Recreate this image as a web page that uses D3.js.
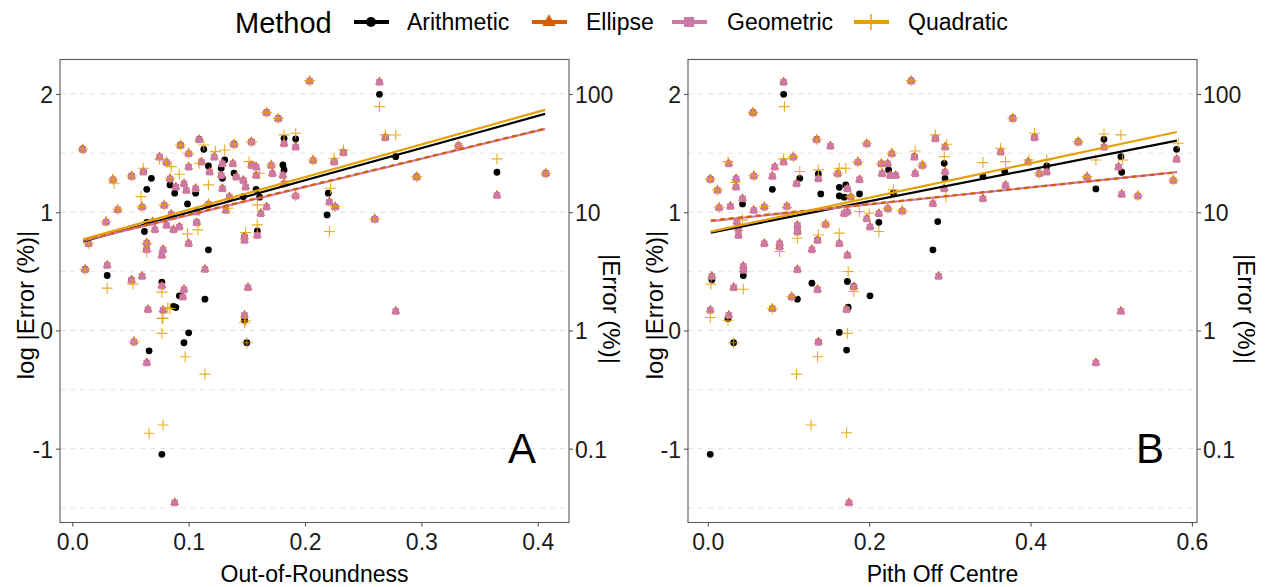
<!DOCTYPE html>
<html><head><meta charset="utf-8">
<script src="https://cdn.jsdelivr.net/npm/d3@7"></script>
<style>
body{margin:0;background:#fff}
text{font-family:"Liberation Sans",Arial,Helvetica,sans-serif}
</style>
</head><body>
<svg id="chart" width="1271" height="587"></svg>
<script>
// ---------- data ----------
const methods = ["Arithmetic","Ellipse","Geometric","Quadratic"];
const methodColors = ["#000000","#D55E00","#CC79A7","#E69F00"];
const yTicks = [-1,0,1,2];
const yMinor = [-1.5,-0.5,0.5,1.5];
const yTickLabels = ["-1","0","1","2"];
const yRightLabels = ["0.1","1","10","100"];
const xTicksA = [0,0.1,0.2,0.3,0.4];
const xTickLabelsA = ["0.0","0.1","0.2","0.3","0.4"];
const xTicksB = [0,0.2,0.4,0.6];
const xTickLabelsB = ["0.0","0.2","0.4","0.6"];

// Panel A (Out-of-Roundness): [x, geometric, ellipse]
const geoEllA = [[0.009,1.535,1.535],[0.011,0.518,0.518],[0.014,0.738,0.738],[0.030,0.555,0.555],[0.029,0.921,0.921],[0.035,1.279,1.279],[0.039,1.025,1.025],[0.051,1.307,1.307],[0.051,0.428,0.428],[0.060,0.462,0.462],[0.061,1.344,1.344],[0.060,1.048,1.048],[0.069,0.921,0.921],[0.071,0.856,0.856],[0.064,0.744,0.744],[0.064,0.687,0.687],[0.075,1.470,1.470],[0.081,1.425,1.425],[0.078,0.687,0.687],[0.077,0.639,0.639],[0.077,0.380,0.380],[0.065,0.180,0.180],[0.078,0.175,0.175],[0.095,0.287,0.287],[0.096,0.349,0.349],[0.079,1.062,1.062],[0.084,1.287,1.287],[0.093,1.569,1.569],[0.100,1.499,1.499],[0.100,1.386,1.386],[0.096,1.245,1.245],[0.098,1.189,1.189],[0.089,1.217,1.217],[0.085,0.986,0.986],[0.081,0.893,0.893],[0.087,0.856,0.856],[0.092,0.879,0.879],[0.100,0.738,0.738],[0.107,0.915,0.915],[0.107,1.006,1.006],[0.106,1.203,1.203],[0.109,1.617,1.617],[0.111,1.428,1.428],[0.118,1.344,1.344],[0.114,0.521,0.521],[0.117,1.070,1.070],[0.122,1.470,1.470],[0.129,1.414,1.414],[0.128,1.315,1.315],[0.129,1.203,1.203],[0.135,1.132,1.132],[0.132,1.020,1.020],[0.138,1.414,1.414],[0.139,1.577,1.577],[0.141,1.301,1.301],[0.147,1.273,1.273],[0.149,1.217,1.217],[0.148,0.794,0.794],[0.148,0.766,0.766],[0.151,0.366,0.366],[0.148,0.132,0.132],[0.154,1.597,1.597],[0.154,1.400,1.400],[0.158,1.386,1.386],[0.158,1.315,1.315],[0.159,0.808,0.808],[0.162,0.992,0.992],[0.167,1.048,1.048],[0.167,1.845,1.845],[0.171,1.400,1.400],[0.172,1.330,1.330],[0.177,1.794,1.794],[0.181,1.315,1.315],[0.182,1.583,1.583],[0.182,1.245,1.245],[0.192,1.555,1.555],[0.192,1.141,1.141],[0.204,2.113,2.113],[0.207,1.442,1.442],[0.221,1.090,1.090],[0.225,1.428,1.428],[0.226,1.048,1.048],[0.233,1.507,1.507],[0.264,2.104,2.104],[0.269,1.634,1.634],[0.278,0.166,0.166],[0.260,0.944,0.944],[0.296,1.301,1.301],[0.332,1.563,1.563],[0.365,1.146,1.146],[0.407,1.330,1.330],[0.053,-0.093,-0.093],[0.064,-0.270,-0.270],[0.088,-1.454,-1.454]];
const arithA = [[0.009,1.535],[0.011,0.518],[0.051,1.307],[0.093,1.569],[0.109,1.617],[0.139,1.577],[0.154,1.597],[0.167,1.845],[0.177,1.794],[0.225,1.428],[0.260,0.944],[0.296,1.301],[0.332,1.563],[0.407,1.330],[0.030,0.465],[0.051,0.428],[0.064,0.915],[0.062,0.837],[0.064,1.194],[0.068,1.287],[0.061,1.344],[0.064,0.687],[0.077,0.408],[0.087,0.203],[0.092,0.293],[0.084,1.231],[0.088,1.161],[0.099,1.070],[0.107,0.915],[0.106,1.161],[0.113,1.532],[0.117,1.392],[0.117,0.682],[0.114,0.265],[0.131,1.442],[0.128,1.372],[0.129,1.287],[0.139,1.330],[0.148,0.794],[0.147,1.132],[0.154,1.400],[0.158,1.194],[0.161,1.127],[0.159,0.842],[0.181,1.400],[0.182,1.358],[0.182,1.625],[0.192,1.620],[0.219,0.977],[0.220,1.161],[0.264,1.997],[0.269,1.634],[0.278,1.470],[0.233,1.507],[0.365,1.338],[0.089,0.194],[0.096,-0.104],[0.100,-0.020],[0.066,-0.172],[0.077,-1.048],[0.148,0.087],[0.150,-0.104]];
const quadA = [[0.009,1.535],[0.011,0.518],[0.014,0.738],[0.029,0.921],[0.030,0.358],[0.035,1.279],[0.036,1.245],[0.039,1.025],[0.051,1.307],[0.052,0.392],[0.061,1.372],[0.060,1.048],[0.059,1.132],[0.064,0.738],[0.064,0.668],[0.075,1.448],[0.081,1.425],[0.077,0.324],[0.078,0.104],[0.082,0.189],[0.079,1.062],[0.085,1.386],[0.084,1.287],[0.093,1.569],[0.100,1.499],[0.092,1.321],[0.099,0.817],[0.108,0.851],[0.113,1.569],[0.109,1.414],[0.117,1.231],[0.117,1.070],[0.123,1.513],[0.131,1.527],[0.134,1.034],[0.139,1.577],[0.149,0.828],[0.149,0.082],[0.154,1.597],[0.152,1.428],[0.161,1.330],[0.159,0.893],[0.159,1.062],[0.167,1.845],[0.171,1.400],[0.177,1.794],[0.182,1.654],[0.182,1.245],[0.192,1.668],[0.192,1.141],[0.204,2.113],[0.207,1.442],[0.264,1.893],[0.269,1.654],[0.278,1.653],[0.233,1.527],[0.225,1.456],[0.222,1.203],[0.226,1.048],[0.221,0.837],[0.296,1.301],[0.332,1.563],[0.365,1.451],[0.407,1.330],[0.260,0.944],[0.084,0.186],[0.077,0.101],[0.077,-0.025],[0.097,-0.223],[0.114,-0.369],[0.053,-0.093],[0.066,-0.870],[0.078,-0.800],[0.148,0.065],[0.150,-0.104]];
const fitXA = [0.0094,0.4063];
const fitArithA = [0.752,1.832];
const fitEllA = [0.764,1.707];
const fitGeoA = [0.760,1.705];
const fitQuadA = [0.772,1.866];

// Panel B (Pith Off Centre): [x, geometric, ellipse]
const geoEllB = [[0.003,1.282,1.282],[0.005,0.462,0.462],[0.003,0.175,0.175],[0.012,1.189,1.189],[0.014,1.042,1.042],[0.026,1.414,1.414],[0.026,0.132,0.132],[0.028,1.054,1.054],[0.032,0.366,0.366],[0.035,1.287,1.287],[0.035,1.217,1.217],[0.036,0.921,0.921],[0.038,0.865,0.865],[0.038,0.808,0.808],[0.043,1.118,1.118],[0.044,0.546,0.546],[0.044,0.513,0.513],[0.056,1.845,1.845],[0.057,1.310,1.310],[0.057,1.020,1.020],[0.070,1.048,1.048],[0.070,0.738,0.738],[0.080,1.307,1.307],[0.083,1.386,1.386],[0.080,0.189,0.189],[0.089,0.710,0.710],[0.089,0.738,0.738],[0.094,2.104,2.104],[0.094,1.428,1.428],[0.098,1.054,1.054],[0.106,1.470,1.470],[0.104,0.287,0.287],[0.110,1.245,1.245],[0.111,0.518,0.518],[0.111,0.837,0.837],[0.111,0.893,0.893],[0.129,0.687,0.687],[0.136,0.349,0.349],[0.135,1.617,1.617],[0.137,1.287,1.287],[0.136,0.766,0.766],[0.146,0.901,0.901],[0.152,1.563,1.563],[0.161,1.330,1.330],[0.173,1.203,1.203],[0.163,0.738,0.738],[0.173,0.639,0.639],[0.181,0.372,0.372],[0.172,0.180,0.180],[0.173,1.006,1.006],[0.169,0.992,0.992],[0.177,1.132,1.132],[0.186,1.428,1.428],[0.188,1.279,1.279],[0.197,1.583,1.583],[0.197,0.949,0.949],[0.201,0.879,0.879],[0.212,0.992,0.992],[0.216,1.330,1.330],[0.215,1.414,1.414],[0.226,1.315,1.315],[0.223,1.414,1.414],[0.228,1.499,1.499],[0.233,1.315,1.315],[0.223,1.034,1.034],[0.241,1.014,1.014],[0.252,2.113,2.113],[0.256,1.470,1.470],[0.257,1.330,1.330],[0.266,1.400,1.400],[0.279,1.076,1.076],[0.282,1.625,1.625],[0.286,0.462,0.462],[0.293,1.203,1.203],[0.294,1.555,1.555],[0.294,1.344,1.344],[0.512,0.166,0.166],[0.341,1.118,1.118],[0.363,1.513,1.513],[0.369,1.231,1.231],[0.378,1.797,1.797],[0.397,1.428,1.428],[0.411,1.330,1.330],[0.420,1.344,1.344],[0.405,1.634,1.634],[0.459,1.597,1.597],[0.470,1.301,1.301],[0.491,1.555,1.555],[0.509,1.386,1.386],[0.513,1.155,1.155],[0.533,1.141,1.141],[0.577,1.273,1.273],[0.581,1.451,1.451],[0.137,-0.096,-0.096],[0.175,-1.454,-1.454],[0.481,-0.270,-0.270]];
const arithB = [[0.003,1.282],[0.056,1.845],[0.135,1.617],[0.252,2.113],[0.378,1.797],[0.459,1.597],[0.405,1.634],[0.005,0.428],[0.043,1.070],[0.044,0.465],[0.080,1.194],[0.089,0.710],[0.094,1.997],[0.111,0.265],[0.114,1.287],[0.111,0.837],[0.129,0.400],[0.137,1.324],[0.140,1.155],[0.136,0.766],[0.163,1.211],[0.163,1.138],[0.169,1.127],[0.171,1.231],[0.173,0.414],[0.181,0.372],[0.174,0.197],[0.188,1.155],[0.201,0.293],[0.212,0.915],[0.224,1.358],[0.230,1.161],[0.256,1.470],[0.279,0.682],[0.282,1.625],[0.285,0.921],[0.293,1.414],[0.294,1.287],[0.341,1.301],[0.368,1.344],[0.420,1.392],[0.481,1.197],[0.491,1.617],[0.512,1.470],[0.513,1.338],[0.581,1.532],[0.003,-1.048],[0.025,0.101],[0.032,-0.104],[0.137,-0.096],[0.163,-0.017],[0.172,-0.166]];
const quadB = [[0.003,1.282],[0.004,0.392],[0.003,0.110],[0.012,1.189],[0.014,1.042],[0.025,1.428],[0.025,0.082],[0.034,1.251],[0.043,0.935],[0.044,0.349],[0.056,1.845],[0.057,1.310],[0.070,1.048],[0.089,0.668],[0.095,1.893],[0.094,1.451],[0.098,1.042],[0.106,1.470],[0.104,0.287],[0.114,1.344],[0.111,0.780],[0.135,1.617],[0.137,1.358],[0.137,0.808],[0.146,0.901],[0.161,1.330],[0.163,1.372],[0.171,1.372],[0.163,0.823],[0.174,0.499],[0.181,0.330],[0.177,1.132],[0.186,1.428],[0.188,1.006],[0.197,1.583],[0.200,0.992],[0.212,0.837],[0.215,1.414],[0.228,1.499],[0.230,1.189],[0.223,1.034],[0.241,1.014],[0.252,2.113],[0.257,1.518],[0.266,1.400],[0.282,1.654],[0.293,1.470],[0.295,1.132],[0.296,1.575],[0.341,1.420],[0.363,1.541],[0.369,1.428],[0.378,1.797],[0.398,1.442],[0.411,1.330],[0.420,1.442],[0.405,1.668],[0.459,1.597],[0.470,1.301],[0.481,1.442],[0.491,1.662],[0.512,1.654],[0.514,1.442],[0.533,1.141],[0.577,1.273],[0.583,1.583],[0.032,-0.104],[0.080,0.186],[0.136,-0.223],[0.110,-0.369],[0.128,-0.800],[0.173,-0.025],[0.172,-0.865]];
const fitXB = [0.0037,0.5813];
const fitArithB = [0.828,1.606];
const fitEllB = [0.930,1.338];
const fitGeoB = [0.925,1.340];
const fitQuadB = [0.836,1.679];

// ---------- layout ----------
const svg = d3.select("#chart");
const plotTop = 59.5, plotBottom = 522.5;
const yDomain = [-1.6244, 2.2919];
const FS = 23;
const panels = [
  {letter:"A", left:60, right:569, xDomain:[-0.01057,0.4269], xTicks:xTicksA, xLabels:xTickLabelsA,
   xTitle:"Out-of-Roundness", geoEll:geoEllA, arith:arithA, quad:quadA,
   fitX:fitXA, fits:[fitArithA,fitGeoA,fitEllA,fitQuadA], leftTitleX:25, rightTitleX:611},
  {letter:"B", left:688, right:1197, xDomain:[-0.02456,0.6063], xTicks:xTicksB, xLabels:xTickLabelsB,
   xTitle:"Pith Off Centre", geoEll:geoEllB, arith:arithB, quad:quadB,
   fitX:fitXB, fits:[fitArithB,fitGeoB,fitEllB,fitQuadB], leftTitleX:654, rightTitleX:1246}
];

const triPath = d3.symbol(d3.symbolTriangle, 34)();
const sq = 6.6, plusR = 5.5;

panels.forEach(p => {
  const x = d3.scaleLinear().domain(p.xDomain).range([p.left, p.right]);
  const y = d3.scaleLinear().domain(yDomain).range([plotBottom, plotTop]);
  const g = svg.append("g");

  // grid
  g.selectAll(".gmin").data(yMinor).join("line")
    .attr("x1", p.left).attr("x2", p.right).attr("y1", d=>y(d)).attr("y2", d=>y(d))
    .attr("stroke", "#e6e6e6").attr("stroke-width", 1).attr("stroke-dasharray", "5,5");
  g.selectAll(".gmaj").data(yTicks).join("line")
    .attr("x1", p.left).attr("x2", p.right).attr("y1", d=>y(d)).attr("y2", d=>y(d))
    .attr("stroke", "#dedede").attr("stroke-width", 1).attr("stroke-dasharray", "5,5");

  const clip = "clip" + p.letter;
  svg.append("clipPath").attr("id", clip).append("rect")
    .attr("x", p.left).attr("y", plotTop).attr("width", p.right - p.left).attr("height", plotBottom - plotTop);
  const pg = g.append("g").attr("clip-path", `url(#${clip})`);

  // points: Arithmetic, Ellipse, Geometric, Quadratic
  pg.selectAll(".ar").data(p.arith).join("circle")
    .attr("cx", d=>x(d[0])).attr("cy", d=>y(d[1])).attr("r", 3.4).attr("fill", methodColors[0]);
  pg.selectAll(".el").data(p.geoEll).join("path")
    .attr("d", triPath).attr("transform", d=>`translate(${x(d[0])},${y(d[2])})`).attr("fill", methodColors[1]);
  pg.selectAll(".ge").data(p.geoEll).join("rect")
    .attr("x", d=>x(d[0]) - sq/2).attr("y", d=>y(d[1]) - sq/2 + 0.6).attr("width", sq).attr("height", sq)
    .attr("fill", methodColors[2]);
  pg.selectAll(".qu").data(p.quad).join("path")
    .attr("d", d=>{const cx=x(d[0]), cy=y(d[1]);
      return `M${cx-plusR},${cy}H${cx+plusR}M${cx},${cy-plusR}V${cy+plusR}`;})
    .attr("stroke", methodColors[3]).attr("stroke-width", 1.1).attr("fill", "none").attr("opacity", 0.85);

  // fitted lines
  const line = d3.line().x(d=>x(d[0])).y(d=>y(d[1]));
  const fitStyle = [
    {c:methodColors[0], dash:null},
    {c:methodColors[2], dash:null},
    {c:methodColors[1], dash:"5,4"},
    {c:methodColors[3], dash:null}
  ];
  p.fits.forEach((f, i) => {
    pg.append("path").datum(p.fitX.map((xv, k) => [xv, f[k]]))
      .attr("d", line).attr("fill", "none").attr("stroke", fitStyle[i].c)
      .attr("stroke-width", 2.2).attr("stroke-dasharray", fitStyle[i].dash);
  });

  // border
  g.append("rect").attr("x", p.left).attr("y", plotTop).attr("width", p.right - p.left).attr("height", plotBottom - plotTop)
    .attr("fill", "none").attr("stroke", "#595959").attr("stroke-width", 1.1);

  // axes
  const styleAxis = sel => {
    sel.select(".domain").remove();
    sel.selectAll(".tick line").attr("stroke", "#555").attr("stroke-width", 1.1);
    sel.selectAll(".tick text").attr("fill", "#1a1a1a").style("font-size", FS + "px")
      .style("font-family", '"Liberation Sans",Arial,sans-serif');
  };
  const ax = g.append("g").attr("transform", `translate(${p.left},0)`)
    .call(d3.axisLeft(y).tickValues(yTicks).tickSize(4).tickPadding(3).tickFormat((d,i)=>yTickLabels[i]));
  styleAxis(ax); ax.selectAll(".tick text").attr("dy", "0.37em");
  const axr = g.append("g").attr("transform", `translate(${p.right},0)`)
    .call(d3.axisRight(y).tickValues(yTicks).tickSize(4).tickPadding(2).tickFormat((d,i)=>yRightLabels[i]));
  styleAxis(axr); axr.selectAll(".tick text").attr("dy", "0.37em");
  const axb = g.append("g").attr("transform", `translate(0,${plotBottom})`)
    .call(d3.axisBottom(x).tickValues(p.xTicks).tickSize(4).tickPadding(7).tickFormat((d,i)=>p.xLabels[i]));
  styleAxis(axb);

  // titles
  g.append("text").attr("transform", `translate(${p.leftTitleX},305) rotate(-90)`)
    .attr("text-anchor", "middle").attr("dominant-baseline", "central")
    .style("font-size", "24px").attr("fill", "#000").text("log |Error (%)|");
  g.append("text").attr("transform", `translate(${p.rightTitleX},309) rotate(90)`)
    .attr("text-anchor", "middle").attr("dominant-baseline", "central")
    .style("font-size", "24px").attr("fill", "#000").text("|Error (%)|");
  g.append("text").attr("x", (p.left + p.right) / 2).attr("y", 582)
    .attr("text-anchor", "middle").style("font-size", FS + "px").attr("fill", "#000").text(p.xTitle);
  g.append("text").attr("x", p.right - 33).attr("y", 463)
    .attr("text-anchor", "end").style("font-size", "42px").attr("fill", "#000").text(p.letter);
});

// ---------- legend ----------
const lg = svg.append("g");
lg.append("text").attr("x", 235).attr("y", 33).style("font-size", "29px").attr("fill", "#000").text("Method");
const legendKeyX = [354, 532, 672, 854];
const legendTextX = [407, 586, 727, 908];
const ly = 22;
methods.forEach((m, i) => {
  const kx = legendKeyX[i], c = methodColors[i], cx = kx + 17;
  lg.append("line").attr("x1", kx).attr("x2", kx + 35).attr("y1", ly).attr("y2", ly)
    .attr("stroke", c).attr("stroke-width", 4);
  if (i === 0) lg.append("circle").attr("cx", cx).attr("cy", ly).attr("r", 5).attr("fill", c);
  if (i === 1) lg.append("path").attr("d", d3.symbol(d3.symbolTriangle, 80)()).attr("transform", `translate(${cx},${ly})`).attr("fill", c);
  if (i === 2) lg.append("rect").attr("x", cx - 5).attr("y", ly - 5).attr("width", 10).attr("height", 10).attr("fill", c);
  if (i === 3) lg.append("path").attr("d", `M${cx-7},${ly}H${cx+7}M${cx},${ly-8}V${ly+8}`).attr("stroke", c).attr("stroke-width", 1.5);
  lg.append("text").attr("x", legendTextX[i]).attr("y", ly + 8).style("font-size", FS + "px").attr("fill", "#000").text(m);
});
</script>
</body></html>
